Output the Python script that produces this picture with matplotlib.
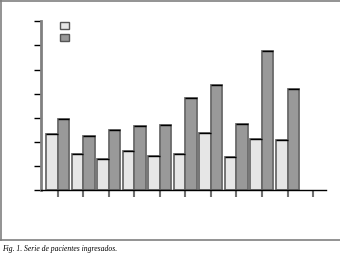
import numpy as np
import matplotlib
matplotlib.use("Agg")
import matplotlib.pyplot as plt
from matplotlib.patches import Patch
from matplotlib.lines import Line2D

# datos (sin escala visible)
grupos = list(range(11))
serie_a = [2.33, 1.50, 1.29, 1.62, 1.42, 1.50, 2.37, 1.37, 2.12, 2.08]
serie_b = [2.97, 2.26, 2.50, 2.68, 2.72, 3.83, 4.37, 2.75, 5.75, 4.19]
pie = "Fig. 1. Serie de pacientes ingresados."

fig = plt.figure(figsize=(3.4, 2.58), dpi=100)
ax = fig.add_axes([0.1206, 0.2624, 0.837, 0.655])

w = 0.45
x = np.arange(len(serie_a))
ax.bar(x - w / 2, serie_a, w, color="#e6e6e6", edgecolor="#6a6a6a", linewidth=1.3, zorder=2)
ax.bar(x + w / 2, serie_b, w, color="#999999", edgecolor="#6a6a6a", linewidth=1.3, zorder=2)
# borde superior negro
ax.hlines(serie_a, x - w, x, colors="black", linewidth=1.0, zorder=3)
ax.hlines(serie_b, x, x + w, colors="black", linewidth=1.0, zorder=3)

ax.set_xlim(-0.65, 10.49)
ax.set_ylim(0, 7)
ax.set_xticks(grupos)
ax.set_xticklabels([])
ax.set_yticks(range(8))
ax.set_yticklabels([])
ax.tick_params(axis="x", direction="out", length=5, width=1.5, color="#707070")
ax.tick_params(axis="y", direction="out", length=5, width=1.0, color="black")

for s in ["top", "right"]:
    ax.spines[s].set_visible(False)
ax.spines["left"].set_color("#808080")
ax.spines["left"].set_linewidth(2)
ax.spines["bottom"].set_color("black")
ax.spines["bottom"].set_linewidth(1.0)

handles = [Patch(facecolor="#e6e6e6", edgecolor="#555555", linewidth=1.0),
           Patch(facecolor="#999999", edgecolor="#555555", linewidth=1.0)]
ax.legend(handles, ["", ""], loc="upper left", bbox_to_anchor=(0.067, 1.0),
          frameon=False, fontsize=6, handlelength=1.1, handleheight=0.9,
          handletextpad=0, labelspacing=0.35, borderpad=0, borderaxespad=0)

# marco de la figura
gris = "#808080"
yb = 1 - 240 / 258
fig.add_artist(Line2D([0, 1], [0.998, 0.998], color=gris, linewidth=1.2, transform=fig.transFigure))
fig.add_artist(Line2D([0.002, 0.002], [yb, 1], color=gris, linewidth=1.2, transform=fig.transFigure))
fig.add_artist(Line2D([0, 1], [yb, yb], color=gris, linewidth=1.2, transform=fig.transFigure))

fig.text(0.006, 1 - 249 / 258, pie, fontsize=5.5, family="Liberation Serif",
         style="italic", va="center", ha="left")

fig.savefig("out.png", dpi=100)
